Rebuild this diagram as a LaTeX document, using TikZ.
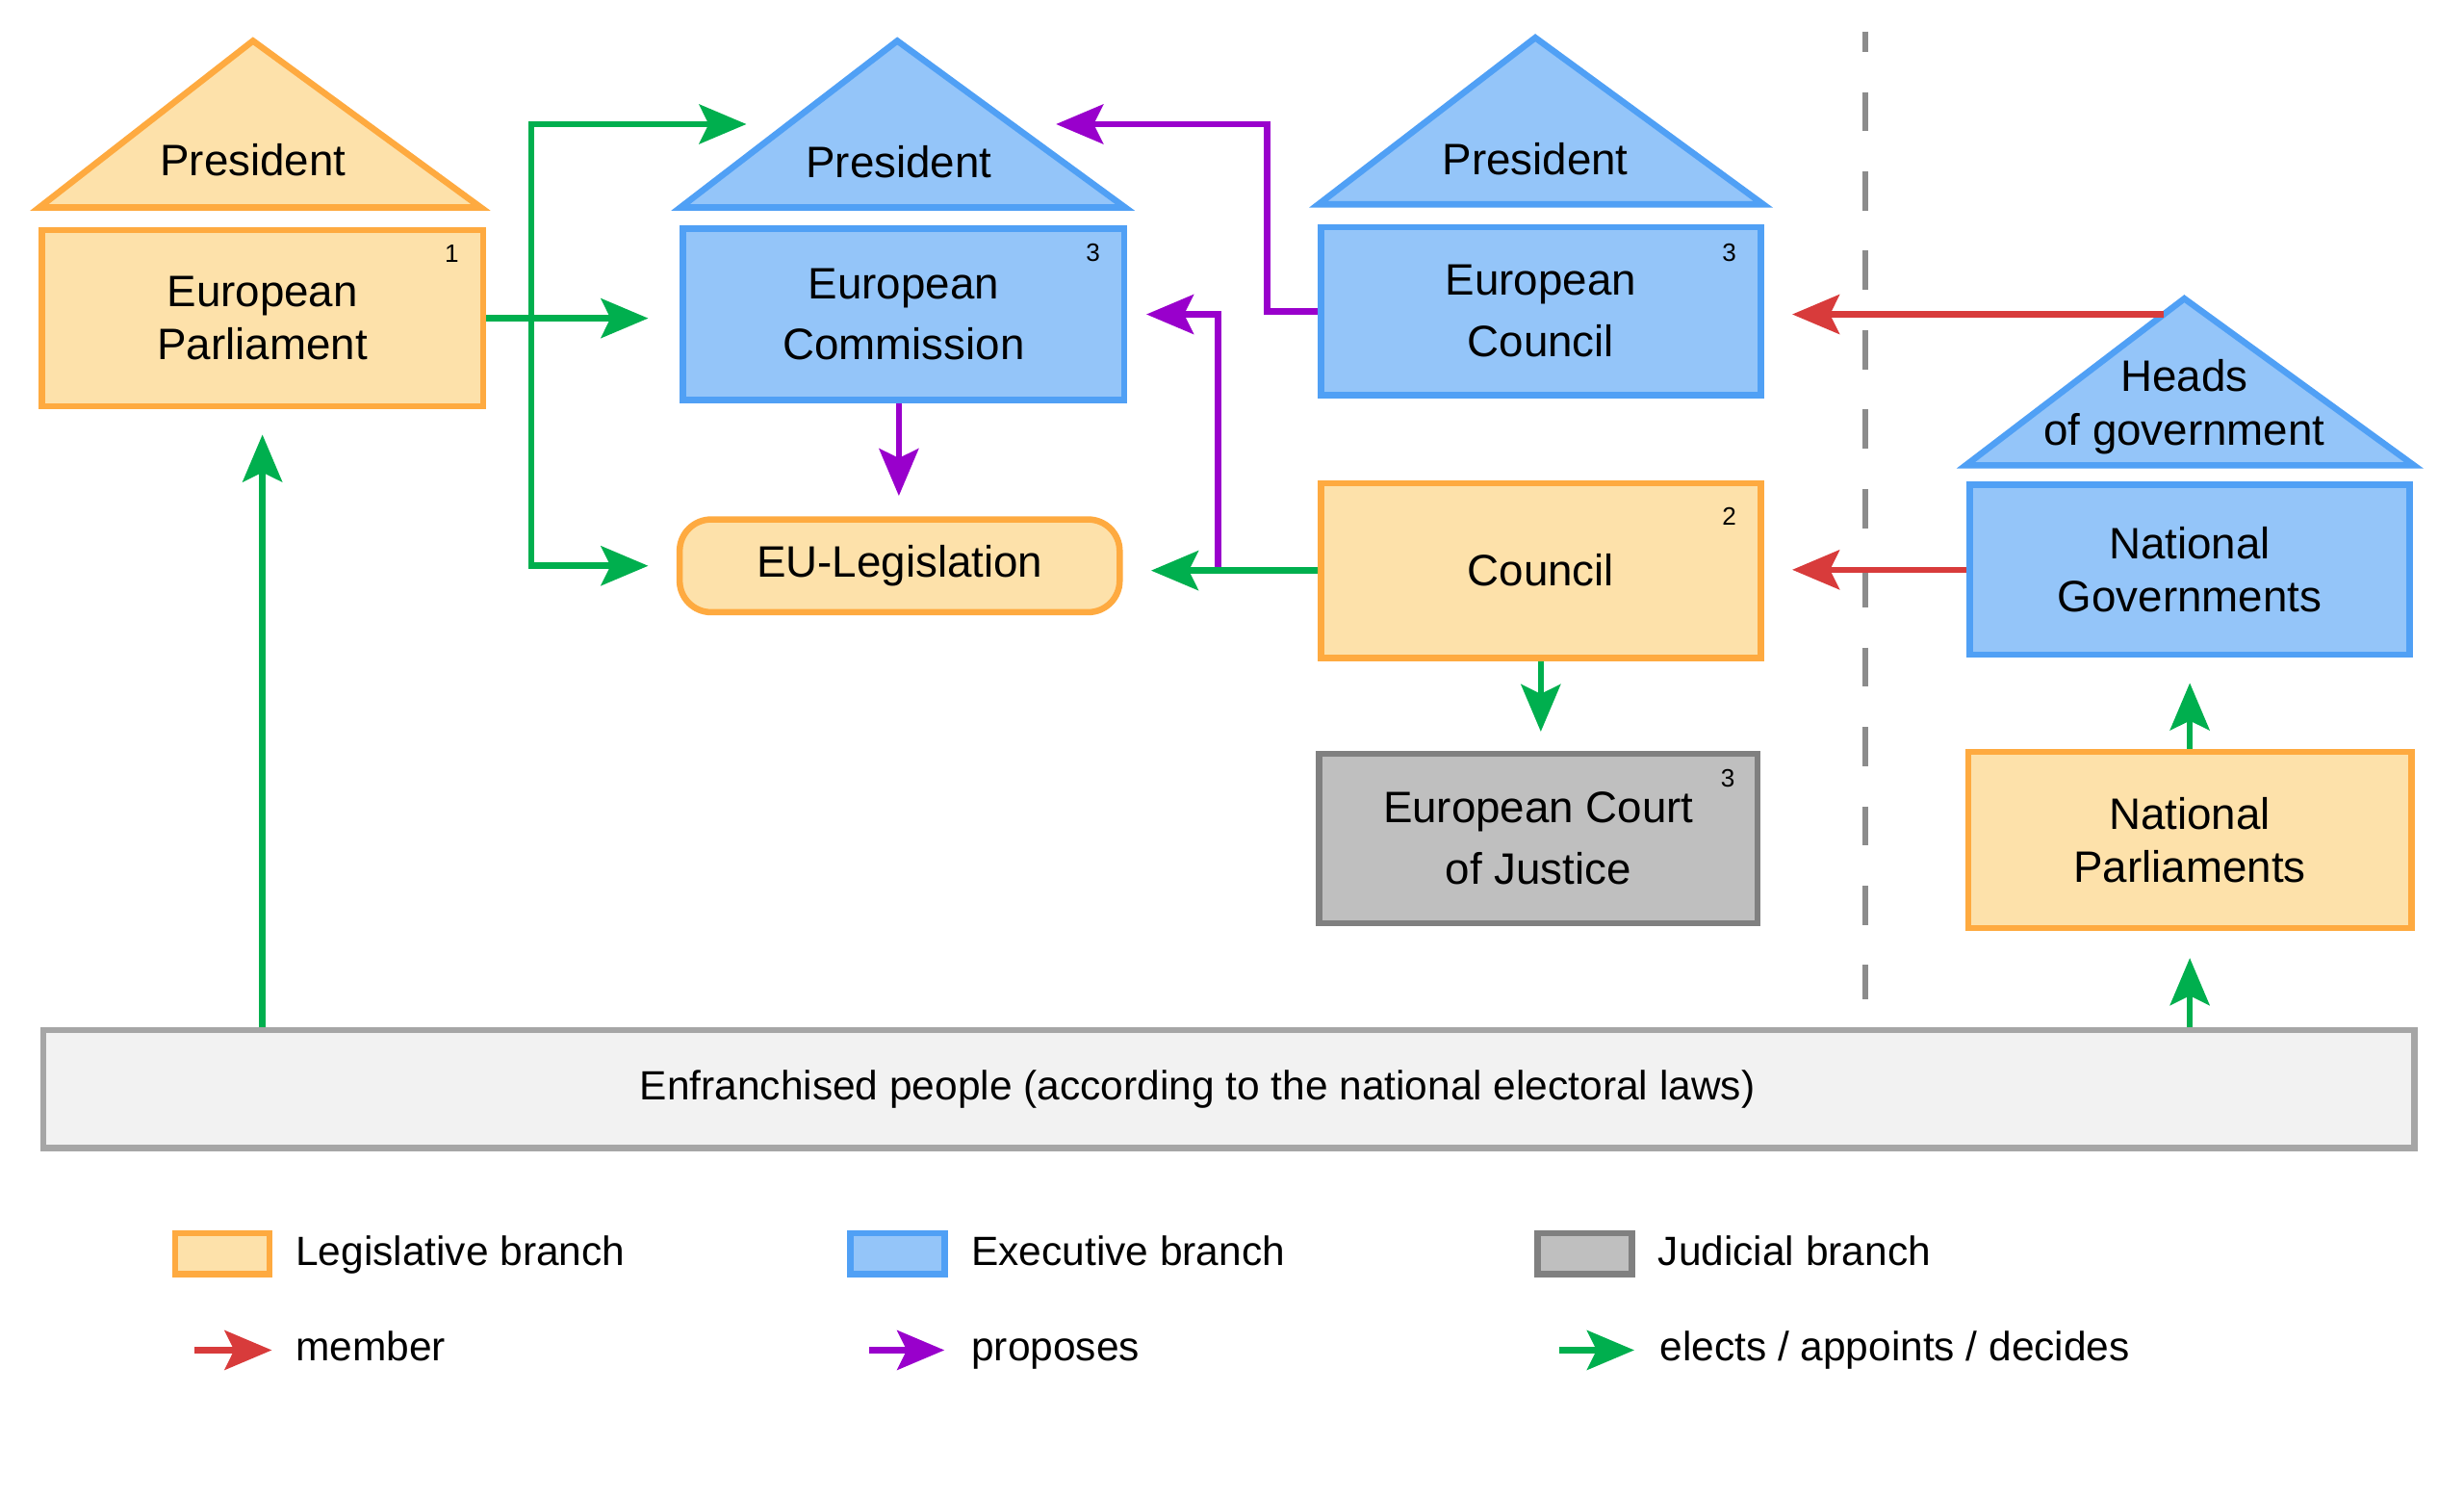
\documentclass[tikz,border=0pt]{standalone}
\usepackage{fontspec}
\setmainfont{Liberation Sans}
\usetikzlibrary{arrows.meta}
\definecolor{legisFill}{HTML}{FDE1AA}
\definecolor{legisLine}{HTML}{FEAA40}
\definecolor{execFill}{HTML}{94C5F9}
\definecolor{execLine}{HTML}{50A0F5}
\definecolor{judicFill}{HTML}{BFBFBF}
\definecolor{judicLine}{HTML}{808080}
\definecolor{peopleFill}{HTML}{F2F2F2}
\definecolor{peopleLine}{HTML}{A6A6A6}
\definecolor{memberRed}{HTML}{D83B3B}
\definecolor{proposePurple}{HTML}{9900CC}
\definecolor{electsGreen}{HTML}{00AF4E}
\definecolor{borderGray}{HTML}{8C8C8C}

\begin{document}
\begin{tikzpicture}[x = 1pt, y = -1pt]
\tikzstyle{boxStyle} = [shape = rectangle, line width = 4pt, align = center, inner sep = 0pt, font = \fontsize{28}{34}\selectfont]
\tikzstyle{legisStyle} = [boxStyle, draw = legisLine, fill = legisFill]
\tikzstyle{execStyle} = [boxStyle, draw = execLine, fill = execFill]
\tikzstyle{judicStyle} = [boxStyle, draw = judicLine, fill = judicFill]
\tikzstyle{peopleStyle} = [boxStyle, draw = peopleLine, fill = peopleFill]
\tikzstyle{wideStyle} = [font = \fontsize{28}{39}\selectfont]
\tikzstyle{numStyle} = [inner sep = 0pt, font = \fontsize{16}{18}\selectfont]
\tikzstyle{textStyle} = [inner sep = 0pt, align = center, font = \fontsize{28}{34}\selectfont]
\tikzstyle{keyStyle} = [inner sep = 0pt, anchor = base west, font = \fontsize{26}{31}\selectfont]
\tikzstyle{memberEdge} = [draw = memberRed, line width = 4pt, -{Stealth[length = 30pt, width = 25pt, inset = 6pt]}]
\tikzstyle{proposeEdge} = [draw = proposePurple, line width = 4pt, -{Stealth[length = 30pt, width = 25pt, inset = 6pt]}]
\tikzstyle{electsEdge} = [draw = electsGreen, line width = 4pt, -{Stealth[length = 30pt, width = 25pt, inset = 6pt]}]
\useasboundingbox (0,0) rectangle (1568,952);
\draw[legisStyle] (161,26) -- (25,132) -- (306,132) -- cycle;
\draw[execStyle] (571,26) -- (433,132) -- (716,132) -- cycle;
\draw[execStyle] (977,24) -- (839,130) -- (1122,130) -- cycle;
\draw[execStyle] (1390,190) -- (1251,296) -- (1536,296) -- cycle;
\node[textStyle, anchor = base] (parlPres) at (161,112) {President};
\node[textStyle, anchor = base] (comPres) at (572,113) {President};
\node[textStyle, anchor = base] (ecPres) at (977,111) {President};
\node[textStyle] (heads) at (1390,259) {Heads\\of government};
\coordinate (comPresLeft) at (502,79);
\coordinate (comPresRight) at (647,79);
\coordinate (headsLeft) at (1377,200);
\node[legisStyle, minimum width = 281, minimum height = 112] (parliament) at (167,202.5) {European\\Parliament};
\node[execStyle, wideStyle, minimum width = 281, minimum height = 109] (commission) at (575,200) {European\\Commission};
\node[execStyle, wideStyle, minimum width = 280, minimum height = 107] (eucouncil) at (980.5,198) {European\\Council};
\node[execStyle, minimum width = 280, minimum height = 108] (natgov) at (1393.5,362.5) {National\\Governments};
\node[legisStyle, rounded corners = 20, minimum width = 280, minimum height = 59] (legislation) at (572.5,360) {EU-Legislation};
\node[legisStyle, minimum width = 280, minimum height = 111] (council) at (980.5,363) {Council};
\node[judicStyle, wideStyle, minimum width = 279, minimum height = 108] (court) at (979,533.5) {European Court\\of Justice};
\node[legisStyle, minimum width = 282, minimum height = 112] (natparl) at (1393.5,534.5) {National\\Parliaments};
\node[peopleStyle, minimum width = 1509, minimum height = 75] (people) at (782,693) {};
\node[keyStyle, anchor = center] (peopleText) at ([xshift = -20]people.center) {Enfranchised people (according to the national electoral laws)};
\node[numStyle] (parlNum) at ([shift = {(-22,17)}]parliament.north east) {1};
\node[numStyle] (comNum) at ([shift = {(-22,17)}]commission.north east) {3};
\node[numStyle] (ecNum) at ([shift = {(-22,18)}]eucouncil.north east) {3};
\node[numStyle] (councilNum) at ([shift = {(-22,23)}]council.north east) {2};
\node[numStyle] (courtNum) at ([shift = {(-21,18)}]court.north east) {3};
\draw[borderGray, line width = 4pt, dash pattern = on 25pt off 25.5pt, dash phase = 12pt] (1187,20) -- (1187,636);
\coordinate (fork) at (338,202.5);
\coordinate (councilFork) at (775,363);
\draw[electsEdge, shorten > = 20] (parliament.east) -- (parliament.east -| commission.west);
\draw[electsEdge, shorten > = 27] (fork) |- (comPresLeft);
\draw[electsEdge, shorten > = 18] (fork) |- (legislation.west);
\draw[proposeEdge, shorten > = 13] ([xshift = -3]commission.south) -- ([xshift = -3]commission.south |- legislation.north);
\draw[proposeEdge, shorten > = 25] (eucouncil.west) -- ++(-32,0) |- (comPresRight);
\draw[proposeEdge, shorten > = 12] (councilFork) |- (commission.east);
\draw[electsEdge, shorten > = 18] (council.west) -- (council.west -| legislation.east);
\draw[electsEdge, shorten > = 12] (council.south) -- (council.south |- court.north);
\draw[memberEdge, shorten > = 18] (headsLeft) -- (headsLeft -| eucouncil.east);
\draw[memberEdge, shorten > = 18] (natgov.west) -- (natgov.west -| council.east);
\draw[electsEdge, shorten > = 16] (natparl.north) -- (natparl.north |- natgov.south);
\draw[electsEdge, shorten > = 17] (natparl.south |- people.north) -- (natparl.south);
\draw[electsEdge, shorten > = 16] (parliament.south |- people.north) -- (parliament.south);
\node[legisStyle, minimum width = 60, minimum height = 26] (legisKey) at (141.5,797.5) {};
\node[execStyle, minimum width = 60, minimum height = 26] (execKey) at (571,797.5) {};
\node[judicStyle, minimum width = 60, minimum height = 26] (judicKey) at (1008.5,797.5) {};
\node[keyStyle] (legisText) at (188,805) {Legislative branch};
\node[keyStyle] (execText) at (618,805) {Executive branch};
\node[keyStyle] (judicText) at (1055,805) {Judicial branch};
\node[keyStyle] (memberText) at (188,866) {member};
\node[keyStyle] (proposeText) at (618,866) {proposes};
\node[keyStyle] (electsText) at (1056,866) {elects / appoints / decides};
\coordinate (memberTail) at (124,859);
\coordinate (proposeTail) at (553,859);
\coordinate (electsTail) at (992,859);
\draw[memberEdge, shorten > = 15] (memberTail) -- (memberTail -| memberText.west);
\draw[proposeEdge, shorten > = 17] (proposeTail) -- (proposeTail -| proposeText.west);
\draw[electsEdge, shorten > = 16] (electsTail) -- (electsTail -| electsText.west);
\end{tikzpicture}
\end{document}
